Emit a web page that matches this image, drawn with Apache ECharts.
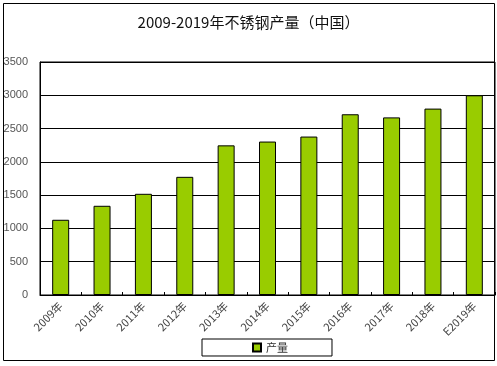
<!DOCTYPE html>
<html>
<head>
<meta charset="utf-8">
<script src="https://cdn.jsdelivr.net/npm/echarts@6/dist/echarts.min.js"></script>
<style>
html,body{margin:0;padding:0;background:#fff;}
#c{width:497px;height:366px;}
</style>
</head>
<body>
<div id="c"></div>
<script>
var titleText = '2009-2019年不锈钢产量（中国）';
var categories = ['2009年','2010年','2011年','2012年','2013年','2014年','2015年','2016年','2017年','2018年','E2019年'];
var seriesName = '产量';
var values = [1130, 1340, 1520, 1775, 2248, 2305, 2380, 2715, 2668, 2800, 3000];
var yTicks = [0, 500, 1000, 1500, 2000, 2500, 3000, 3500];

var chart = echarts.init(document.getElementById('c'), null, {renderer: 'canvas'});
chart.setOption({
  backgroundColor: '#fff',
  animation: false,
  title: {
    text: titleText,
    left: 'center',
    top: 10,
    textStyle: {fontFamily: 'Noto Sans CJK SC', fontSize: 15, fontWeight: 'normal', color: '#111'}
  },
  graphic: [{
    type: 'rect',
    shape: {x: 3.5, y: 3.5, width: 491, height: 357},
    style: {fill: 'none', stroke: '#000', lineWidth: 1},
    z: 100
  }],
  legend: {
    data: [seriesName],
    left: 202,
    top: 339,
    padding: [3, 44, 3, 50],
    borderColor: '#000',
    borderWidth: 1,
    backgroundColor: '#fff',
    itemWidth: 8,
    itemHeight: 8,
    itemGap: 5,
    icon: 'rect',
    textStyle: {fontFamily: 'Noto Sans CJK SC', fontSize: 11, color: '#333'}
  },
  grid: {
    left: 40, top: 62, right: 2, bottom: 71,
    show: true, borderColor: '#000', borderWidth: 1
  },
  xAxis: {
    type: 'category',
    data: categories,
    axisLine: {lineStyle: {color: '#000', width: 1}},
    axisTick: {show: true, inside: true, length: 3, alignWithLabel: false, lineStyle: {color: '#000'}},
    axisLabel: {rotate: 45, fontSize: 11, color: '#444', fontFamily: 'Noto Sans CJK SC', margin: 9, interval: 0}
  },
  yAxis: {
    type: 'value',
    min: yTicks[0],
    max: yTicks[yTicks.length - 1],
    interval: 500,
    axisLine: {show: true, lineStyle: {color: '#000'}},
    axisTick: {show: false},
    splitLine: {lineStyle: {color: '#000', width: 1}},
    axisLabel: {fontSize: 11, color: '#555', fontFamily: 'Liberation Sans', margin: 12,
      formatter: function (v) { return String(v); }}
  },
  series: [{
    name: seriesName,
    type: 'bar',
    data: values,
    barWidth: 17,
    itemStyle: {color: '#99cc00', borderColor: '#000', borderWidth: 1}
  }]
});
</script>
</body>
</html>
